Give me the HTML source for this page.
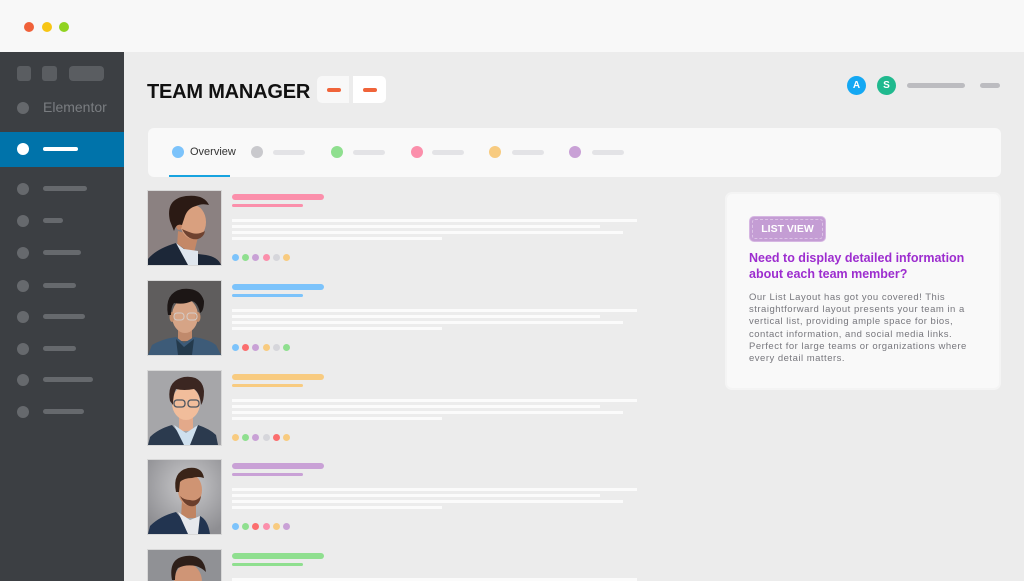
<!DOCTYPE html>
<html><head><meta charset="utf-8">
<style>
*{margin:0;padding:0;box-sizing:border-box}
html,body{width:1024px;height:581px;overflow:hidden;background:#ececec;font-family:"Liberation Sans",sans-serif}
#w{position:relative;width:1024px;height:581px;overflow:hidden;background:#ececec}
.a{position:absolute}
.r{border-radius:3px}
.c{border-radius:50%}
</style></head><body><div id="w">
<div class="a" style="left:0;top:0;width:1024px;height:52px;background:#f8f8f8"></div>
<div class="a c" style="left:24px;top:22px;width:10px;height:10px;background:#f0613a"></div>
<div class="a c" style="left:42px;top:22px;width:10px;height:10px;background:#f7c514"></div>
<div class="a c" style="left:59px;top:22px;width:10px;height:10px;background:#90d321"></div>

<!-- sidebar -->
<div class="a" style="left:0;top:52px;width:124px;height:529px;background:#3c3f43"></div>
<div class="a" style="left:17px;top:66px;width:14px;height:15px;background:#5a5d61;border-radius:3px"></div>
<div class="a" style="left:42px;top:66px;width:15px;height:15px;background:#5a5d61;border-radius:3px"></div>
<div class="a" style="left:69px;top:66px;width:35px;height:15px;background:#5a5d61;border-radius:4px"></div>
<div class="a c" style="left:17px;top:102px;width:12px;height:12px;background:#65686c"></div>
<div class="a" style="left:43px;top:98px;font-size:14px;color:#7a7d81;line-height:18px">Elementor</div>
<div class="a" style="left:0;top:132px;width:124px;height:35px;background:#0073aa"></div>
<div class="a c" style="left:17px;top:143px;width:12px;height:12px;background:#fff"></div>
<div class="a" style="left:43px;top:147px;width:35px;height:4px;background:#fff;border-radius:2px"></div>

<div class="a c" style="left:17px;top:183px;width:12px;height:12px;background:#66696d"></div><div class="a" style="left:43px;top:186px;width:44px;height:5px;background:#66696d;border-radius:3px"></div>
<div class="a c" style="left:17px;top:215px;width:12px;height:12px;background:#66696d"></div><div class="a" style="left:43px;top:218px;width:20px;height:5px;background:#66696d;border-radius:3px"></div>
<div class="a c" style="left:17px;top:247px;width:12px;height:12px;background:#66696d"></div><div class="a" style="left:43px;top:250px;width:38px;height:5px;background:#66696d;border-radius:3px"></div>
<div class="a c" style="left:17px;top:280px;width:12px;height:12px;background:#66696d"></div><div class="a" style="left:43px;top:283px;width:33px;height:5px;background:#66696d;border-radius:3px"></div>
<div class="a c" style="left:17px;top:311px;width:12px;height:12px;background:#66696d"></div><div class="a" style="left:43px;top:314px;width:42px;height:5px;background:#66696d;border-radius:3px"></div>
<div class="a c" style="left:17px;top:343px;width:12px;height:12px;background:#66696d"></div><div class="a" style="left:43px;top:346px;width:33px;height:5px;background:#66696d;border-radius:3px"></div>
<div class="a c" style="left:17px;top:374px;width:12px;height:12px;background:#66696d"></div><div class="a" style="left:43px;top:377px;width:50px;height:5px;background:#66696d;border-radius:3px"></div>
<div class="a c" style="left:17px;top:406px;width:12px;height:12px;background:#66696d"></div><div class="a" style="left:43px;top:409px;width:41px;height:5px;background:#66696d;border-radius:3px"></div>

<!-- header -->
<div class="a" style="left:147px;top:80px;font-size:20px;font-weight:bold;color:#111;letter-spacing:-0.2px;line-height:24px">TEAM MANAGER</div>
<div class="a" style="left:317px;top:76px;width:32px;height:27px;background:#f8f8f8;border-radius:5px 0 0 5px"></div>
<div class="a" style="left:353px;top:76px;width:33px;height:27px;background:#fff;border-radius:0 5px 5px 0"></div>
<div class="a" style="left:327px;top:88px;width:14px;height:4px;background:#f0643a;border-radius:2px"></div>
<div class="a" style="left:363px;top:88px;width:14px;height:4px;background:#f0643a;border-radius:2px"></div>

<div class="a c" style="left:847px;top:76px;width:19px;height:19px;background:#14a8f3;color:#fff;font-size:10px;font-weight:bold;text-align:center;line-height:19px">A</div>
<div class="a c" style="left:877px;top:76px;width:19px;height:19px;background:#20b98e;color:#fff;font-size:10px;font-weight:bold;text-align:center;line-height:19px">S</div>
<div class="a" style="left:907px;top:83px;width:58px;height:5px;background:#bcbcc0;border-radius:3px"></div>
<div class="a" style="left:980px;top:83px;width:20px;height:5px;background:#bcbcc0;border-radius:3px"></div>

<!-- tabs -->
<div class="a" style="left:148px;top:128px;width:853px;height:49px;background:#f9f9f9;border-radius:6px"></div>
<div class="a c" style="left:172px;top:146px;width:12px;height:12px;background:#7cc3fb"></div>
<div class="a" style="left:190px;top:145px;font-size:11px;color:#333;line-height:14px">Overview</div>
<div class="a" style="left:169px;top:175px;width:61px;height:2px;background:#17a3df"></div>
<div class="a c" style="left:251px;top:146px;width:12px;height:12px;background:#c9c9cd"></div><div class="a" style="left:273px;top:150px;width:32px;height:5px;background:#e3e3e6;border-radius:3px"></div>
<div class="a c" style="left:331px;top:146px;width:12px;height:12px;background:#8fdf8f"></div><div class="a" style="left:353px;top:150px;width:32px;height:5px;background:#e3e3e6;border-radius:3px"></div>
<div class="a c" style="left:411px;top:146px;width:12px;height:12px;background:#fb8fab"></div><div class="a" style="left:432px;top:150px;width:32px;height:5px;background:#e3e3e6;border-radius:3px"></div>
<div class="a c" style="left:489px;top:146px;width:12px;height:12px;background:#f8cb80"></div><div class="a" style="left:512px;top:150px;width:32px;height:5px;background:#e3e3e6;border-radius:3px"></div>
<div class="a c" style="left:569px;top:146px;width:12px;height:12px;background:#c9a1d6"></div><div class="a" style="left:592px;top:150px;width:32px;height:5px;background:#e3e3e6;border-radius:3px"></div>

<!-- right card -->
<div class="a" style="left:725px;top:192px;width:276px;height:198px;background:#f9f9f9;border:2px solid #f4f4f4;border-radius:7px"></div>
<div class="a" style="left:749px;top:216px;width:77px;height:26px;background:#c49dd4;border:1px solid #d6b6e2;border-radius:5px"></div>
<div class="a" style="left:752px;top:219px;width:71px;height:20px;border:1px dashed #dcc3e6;border-radius:3px"></div>
<div class="a" style="left:749px;top:222px;width:77px;text-align:center;font-size:10.5px;font-weight:bold;color:#fff;line-height:14px">LIST VIEW</div>
<div class="a" style="left:749px;top:251px;font-size:12.5px;font-weight:bold;color:#9d2dcf;line-height:15.5px;white-space:nowrap">Need to display detailed information<br>about each team member?</div>
<div class="a" style="left:749px;top:292px;font-size:9.5px;color:#77777d;line-height:12.2px;letter-spacing:0.5px;white-space:nowrap">Our List Layout has got you covered! This<br>straightforward layout presents your team in a<br>vertical list, providing ample space for bios,<br>contact information, and social media links.<br>Perfect for large teams or organizations where<br>every detail matters.</div>

<!-- row 1 -->
<svg class="a" style="left:148px;top:191px;box-shadow:0 0 0 1px #d8d8d8" width="73" height="74" viewBox="0 0 73 74">
<rect width="73" height="74" fill="#8b8181"/>
<path d="M30,40 L29,56 L46,62 L50,46 Z" fill="#c48867"/>
<path d="M0,74 L0,68 Q8,58 28,52 L42,62 L58,64 Q70,66 73,74 Z" fill="#1c2738"/>
<path d="M28,52 L40,74 L50,74 L50,60 L36,58 Z" fill="#dfe6ee"/>
<ellipse cx="45" cy="31" rx="13" ry="17" fill="#d9a07f"/>
<path d="M34,38 Q40,50 50,48 Q56,46 57,40 Q50,44 44,42 Q38,40 34,38 Z" fill="#6e4230"/>
<ellipse cx="31" cy="34" rx="3" ry="5" fill="#c48463"/>
<path d="M22,30 Q17,8 38,5 Q56,3 61,14 Q54,12 48,15 Q40,17 37,25 L34,34 Q28,32 26,40 Z" fill="#2b1a14"/>
</svg>
<div class="a" style="left:232px;top:194px;width:92px;height:6px;background:#fb8fab;border-radius:3px"></div>
<div class="a" style="left:232px;top:204px;width:71px;height:3px;background:#fb8fab;border-radius:2px"></div>
<div class="a" style="left:232px;top:219px;width:405px;height:2.5px;background:#fbfbfb"></div>
<div class="a" style="left:232px;top:225px;width:368px;height:2.5px;background:#fbfbfb"></div>
<div class="a" style="left:232px;top:231px;width:391px;height:2.5px;background:#fbfbfb"></div>
<div class="a" style="left:232px;top:237px;width:210px;height:2.5px;background:#fbfbfb"></div>
<div class="a c" style="left:232px;top:253.5px;width:7px;height:7px;background:#7cc3fb"></div>
<div class="a c" style="left:242px;top:253.5px;width:7px;height:7px;background:#8fdf8f"></div>
<div class="a c" style="left:252px;top:253.5px;width:7px;height:7px;background:#c9a1d6"></div>
<div class="a c" style="left:262.5px;top:253.5px;width:7px;height:7px;background:#fb8fab"></div>
<div class="a c" style="left:272.5px;top:253.5px;width:7px;height:7px;background:#d6d6db"></div>
<div class="a c" style="left:283px;top:253.5px;width:7px;height:7px;background:#f8cb80"></div>

<!-- row 2 -->
<svg class="a" style="left:148px;top:281px;box-shadow:0 0 0 1px #d8d8d8" width="73" height="74" viewBox="0 0 73 74">
<rect width="73" height="74" fill="#5f5d5d"/>
<path d="M30,44 L30,60 L44,60 L44,44 Z" fill="#c08a6c"/>
<path d="M0,74 L4,64 Q14,58 28,56 L36,62 L46,56 Q60,58 68,64 L73,74 Z" fill="#3d5b78"/>
<path d="M28,58 L36,66 L46,58 L44,74 L30,74 Z" fill="#243a4c"/>
<ellipse cx="37" cy="35" rx="13" ry="17" fill="#d6a486"/>
<ellipse cx="24" cy="36" rx="2.5" ry="5" fill="#c4906f"/>
<ellipse cx="50" cy="36" rx="2.5" ry="5" fill="#c4906f"/>
<path d="M20,34 Q16,12 34,8 Q52,6 56,20 Q56,30 52,32 Q50,22 44,20 Q36,24 26,22 Q23,26 23,34 Z" fill="#1c1615"/>
<rect x="26" y="32" width="10" height="7" rx="3" fill="none" stroke="#d4ccc8" stroke-width="1"/>
<rect x="39" y="32" width="10" height="7" rx="3" fill="none" stroke="#d4ccc8" stroke-width="1"/>
</svg>
<div class="a" style="left:232px;top:284px;width:92px;height:6px;background:#7cc3fb;border-radius:3px"></div>
<div class="a" style="left:232px;top:294px;width:71px;height:3px;background:#7cc3fb;border-radius:2px"></div>
<div class="a" style="left:232px;top:309px;width:405px;height:2.5px;background:#fbfbfb"></div>
<div class="a" style="left:232px;top:315px;width:368px;height:2.5px;background:#fbfbfb"></div>
<div class="a" style="left:232px;top:321px;width:391px;height:2.5px;background:#fbfbfb"></div>
<div class="a" style="left:232px;top:327px;width:210px;height:2.5px;background:#fbfbfb"></div>
<div class="a c" style="left:232px;top:343.5px;width:7px;height:7px;background:#7cc3fb"></div>
<div class="a c" style="left:242px;top:343.5px;width:7px;height:7px;background:#fb6e6e"></div>
<div class="a c" style="left:252px;top:343.5px;width:7px;height:7px;background:#c9a1d6"></div>
<div class="a c" style="left:262.5px;top:343.5px;width:7px;height:7px;background:#f8cb80"></div>
<div class="a c" style="left:272.5px;top:343.5px;width:7px;height:7px;background:#d6d6db"></div>
<div class="a c" style="left:283px;top:343.5px;width:7px;height:7px;background:#8fdf8f"></div>

<!-- row 3 -->
<svg class="a" style="left:148px;top:371px;box-shadow:0 0 0 1px #d8d8d8" width="73" height="74" viewBox="0 0 73 74">
<rect width="73" height="74" fill="#a6a6a9"/>
<path d="M31,44 L31,60 L45,60 L45,44 Z" fill="#e3a98a"/>
<path d="M0,74 L2,66 Q10,58 24,54 L38,70 L50,54 Q62,58 68,64 L70,74 Z" fill="#2b3a4e"/>
<path d="M26,54 L36,74 L42,74 L50,54 L38,62 Z" fill="#cfe0ee"/>
<ellipse cx="38" cy="32" rx="14" ry="17" fill="#f1bd9b"/>
<path d="M22,30 Q18,10 36,6 Q54,4 56,20 Q56,30 53,34 Q52,22 46,18 Q36,20 28,18 Q25,24 25,34 Z" fill="#3b2621"/>
<rect x="26" y="29" width="11" height="7" rx="3" fill="none" stroke="#4c5560" stroke-width="1.3"/>
<rect x="40" y="29" width="11" height="7" rx="3" fill="none" stroke="#4c5560" stroke-width="1.3"/>
</svg>
<div class="a" style="left:232px;top:374px;width:92px;height:6px;background:#f8cb80;border-radius:3px"></div>
<div class="a" style="left:232px;top:384px;width:71px;height:3px;background:#f8cb80;border-radius:2px"></div>
<div class="a" style="left:232px;top:399px;width:405px;height:2.5px;background:#fbfbfb"></div>
<div class="a" style="left:232px;top:405px;width:368px;height:2.5px;background:#fbfbfb"></div>
<div class="a" style="left:232px;top:411px;width:391px;height:2.5px;background:#fbfbfb"></div>
<div class="a" style="left:232px;top:417px;width:210px;height:2.5px;background:#fbfbfb"></div>
<div class="a c" style="left:232px;top:433.5px;width:7px;height:7px;background:#f8cb80"></div>
<div class="a c" style="left:242px;top:433.5px;width:7px;height:7px;background:#8fdf8f"></div>
<div class="a c" style="left:252px;top:433.5px;width:7px;height:7px;background:#c9a1d6"></div>
<div class="a c" style="left:262.5px;top:433.5px;width:7px;height:7px;background:#d6d6db"></div>
<div class="a c" style="left:272.5px;top:433.5px;width:7px;height:7px;background:#fb6e6e"></div>
<div class="a c" style="left:283px;top:433.5px;width:7px;height:7px;background:#f8cb80"></div>

<!-- row 4 -->
<svg class="a" style="left:148px;top:460px;box-shadow:0 0 0 1px #d8d8d8" width="73" height="74" viewBox="0 0 73 74">
<defs><radialGradient id="g4" cx="0.55" cy="0.35" r="0.7"><stop offset="0" stop-color="#cacacc"/><stop offset="1" stop-color="#8e8e92"/></radialGradient></defs>
<rect width="73" height="74" fill="url(#g4)"/>
<path d="M34,40 L33,58 L48,58 L48,40 Z" fill="#c08462"/>
<path d="M0,74 L2,66 Q12,56 28,52 L40,66 L52,56 Q60,60 62,74 Z" fill="#223450"/>
<path d="M30,52 L40,74 L50,74 L52,56 L42,60 Z" fill="#e6e8ec"/>
<ellipse cx="42" cy="30" rx="12" ry="16" fill="#cf9473"/>
<path d="M32,36 Q38,48 46,46 Q52,44 53,36 Q48,42 42,40 Q36,40 32,36 Z" fill="#6b3f2c"/>
<path d="M28,32 Q24,12 40,8 Q54,6 56,18 Q50,16 44,18 Q36,18 32,22 L31,32 Z" fill="#3a2418"/>
</svg>
<div class="a" style="left:232px;top:463px;width:92px;height:6px;background:#c9a1d6;border-radius:3px"></div>
<div class="a" style="left:232px;top:473px;width:71px;height:3px;background:#c9a1d6;border-radius:2px"></div>
<div class="a" style="left:232px;top:488px;width:405px;height:2.5px;background:#fbfbfb"></div>
<div class="a" style="left:232px;top:494px;width:368px;height:2.5px;background:#fbfbfb"></div>
<div class="a" style="left:232px;top:500px;width:391px;height:2.5px;background:#fbfbfb"></div>
<div class="a" style="left:232px;top:506px;width:210px;height:2.5px;background:#fbfbfb"></div>
<div class="a c" style="left:232px;top:522.5px;width:7px;height:7px;background:#7cc3fb"></div>
<div class="a c" style="left:242px;top:522.5px;width:7px;height:7px;background:#8fdf8f"></div>
<div class="a c" style="left:252px;top:522.5px;width:7px;height:7px;background:#fb6e6e"></div>
<div class="a c" style="left:262.5px;top:522.5px;width:7px;height:7px;background:#fb8fab"></div>
<div class="a c" style="left:272.5px;top:522.5px;width:7px;height:7px;background:#f8cb80"></div>
<div class="a c" style="left:283px;top:522.5px;width:7px;height:7px;background:#c9a1d6"></div>

<!-- row 5 (clipped) -->
<svg class="a" style="left:148px;top:550px;box-shadow:0 0 0 1px #d8d8d8" width="73" height="31" viewBox="0 0 73 31">
<rect width="73" height="31" fill="#909195"/>
<ellipse cx="40" cy="32" rx="14" ry="18" fill="#cf9576"/>
<path d="M24,30 Q20,8 38,6 Q56,4 58,22 Q54,18 48,16 Q38,14 30,18 Q27,22 27,30 Z" fill="#2e1f19"/>
</svg>
<div class="a" style="left:232px;top:553px;width:92px;height:6px;background:#8fdf8f;border-radius:3px"></div>
<div class="a" style="left:232px;top:563px;width:71px;height:3px;background:#8fdf8f;border-radius:2px"></div>
<div class="a" style="left:232px;top:578px;width:405px;height:2.5px;background:#fbfbfb"></div>
</div></body></html>
